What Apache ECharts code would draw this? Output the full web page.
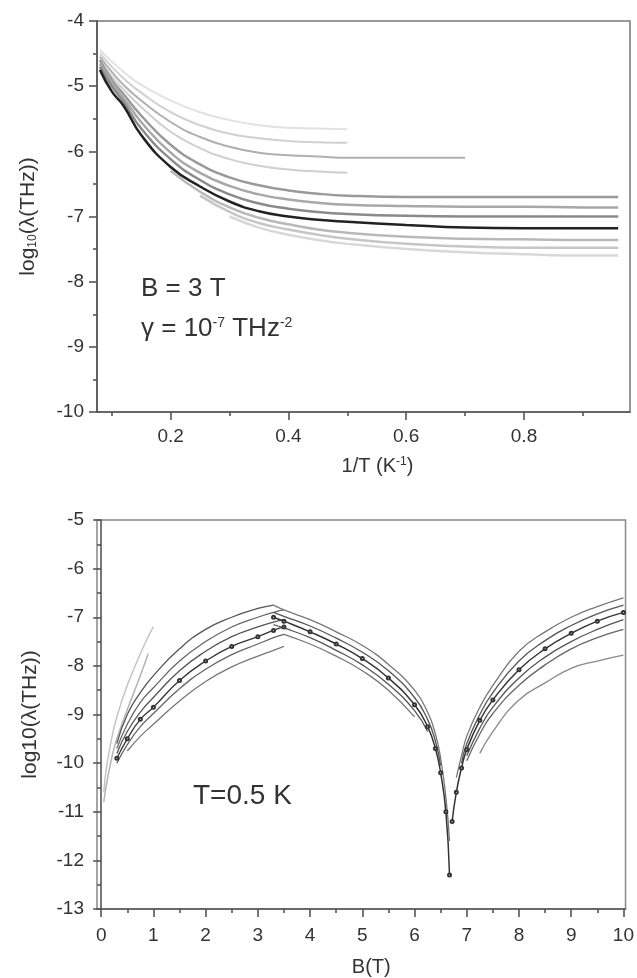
<!DOCTYPE html>
<html>
<head>
<meta charset="utf-8">
<script src="https://cdn.jsdelivr.net/npm/echarts@6/dist/echarts.min.js"></script>
<style>
html,body{margin:0;padding:0;background:#fff;}
#main{width:637px;height:978px;}
</style>
</head>
<body>
<div id="main"></div>
<script>
// ---------- Top panel: log10(lambda) vs 1/T at B = 3 T ----------
const topX = [0.08, 0.1, 0.12, 0.15, 0.2, 0.25, 0.3, 0.35, 0.4, 0.45, 0.5, 0.6, 0.7, 0.8, 0.9, 0.96];
const topT1 = [-4.45, -4.62, -4.78, -4.98, -5.22, -5.4, -5.52, -5.6, -5.64, -5.65, -5.66];
const topT2 = [-4.5, -4.7, -4.88, -5.1, -5.4, -5.6, -5.73, -5.8, -5.84, -5.86, -5.87];
const topT3 = [-4.55, -4.78, -4.98, -5.22, -5.55, -5.78, -5.93, -6.02, -6.06, -6.08, -6.1, -6.1, -6.1];
const topT4 = [-4.6, -4.85, -5.05, -5.32, -5.7, -5.95, -6.12, -6.22, -6.28, -6.31, -6.33];
const topL1 = [-4.6, -4.9, -5.12, -5.45, -5.9, -6.2, -6.4, -6.52, -6.6, -6.65, -6.68, -6.7, -6.7, -6.7, -6.7, -6.7];
const topL2 = [-4.65, -4.95, -5.18, -5.55, -6.02, -6.33, -6.53, -6.66, -6.74, -6.79, -6.82, -6.84, -6.85, -6.85, -6.86, -6.86];
const topL3 = [-4.7, -5.0, -5.24, -5.65, -6.12, -6.44, -6.66, -6.8, -6.88, -6.93, -6.96, -6.99, -7.0, -7.0, -7.0, -7.0];
const topDark = [-4.75, -5.08, -5.3, -5.75, -6.24, -6.54, -6.77, -6.92, -7.0, -7.05, -7.08, -7.13, -7.17, -7.18, -7.18, -7.18];
const topL5 = [null, null, null, null, -6.3, -6.62, -6.86, -7.02, -7.12, -7.2, -7.25, -7.31, -7.34, -7.35, -7.36, -7.36];
const topL6 = [null, null, null, null, null, -6.68, -6.93, -7.1, -7.2, -7.28, -7.34, -7.42, -7.46, -7.48, -7.48, -7.48];
const topL7 = [null, null, null, null, null, null, -7.0, -7.17, -7.28, -7.36, -7.42, -7.5, -7.55, -7.58, -7.6, -7.6];
const topXMajor = [0.2, 0.4, 0.6, 0.8];
const topXMinor = [0.1, 0.3, 0.5, 0.7, 0.9];

// ---------- Bottom panel: log10(lambda) vs B at T = 0.5 K ----------
const bSteep = [0.05, 0.1, 0.2, 0.3, 0.5, 0.75, 0.9, 1.0];
const steep1 = [-10.6, -10.1, -9.5, -9.05, -8.4, -7.75, -7.4, -7.2];
const steep2 = [-10.8, -10.45, -9.9, -9.5, -8.9, -8.2, -7.75, null];

const bLeft = [0.3, 0.5, 0.75, 1, 1.5, 2, 2.5, 3, 3.3, 3.5];
const left1 = [-9.6, -9.0, -8.55, -8.2, -7.65, -7.25, -7.0, -6.82, -6.75, null];
const left2 = [-9.7, -9.2, -8.75, -8.45, -7.9, -7.5, -7.2, -7.0, -6.9, -6.85];
const left3 = [-9.8, -9.35, -8.95, -8.65, -8.1, -7.7, -7.4, -7.2, -7.1, -7.05];
const left4 = [-9.9, -9.5, -9.1, -8.85, -8.3, -7.9, -7.6, -7.4, -7.27, -7.2];
const left5 = [-10.0, -9.62, -9.25, -8.98, -8.47, -8.07, -7.77, -7.55, -7.42, -7.35];
const left6 = [null, -9.75, -9.45, -9.2, -8.72, -8.32, -8.02, -7.8, -7.68, -7.6];

const bMid = [3.3, 3.5, 4, 4.5, 5, 5.5, 6, 6.25, 6.4, 6.5, 6.6, 6.67];
const mid1 = [-6.75, -6.85, -7.05, -7.3, -7.58, -7.97, -8.5, -8.95, -9.4, -9.9, -10.7, -11.6];
const mid2 = [-6.9, -6.98, -7.18, -7.43, -7.72, -8.1, -8.65, -9.1, -9.55, -10.05, null, null];
const mid3 = [-7.0, -7.08, -7.3, -7.55, -7.85, -8.25, -8.8, -9.25, -9.7, -10.2, -11.0, -12.3];
const mid4 = [-7.15, -7.22, -7.42, -7.68, -7.98, -8.38, -8.92, -9.35, null, null, null, null];
const mid5 = [null, -7.35, -7.55, -7.8, -8.1, -8.5, -9.05, null, null, null, null, null];

const bRight = [6.72, 6.8, 6.9, 7, 7.25, 7.5, 8, 8.5, 9, 9.5, 10];
const right1 = [null, -10.3, -9.85, -9.45, -8.85, -8.4, -7.7, -7.3, -7.0, -6.78, -6.6];
const right2 = [null, null, -10.0, -9.6, -9.0, -8.55, -7.9, -7.48, -7.17, -6.93, -6.75];
const right3 = [-11.2, -10.6, -10.1, -9.72, -9.12, -8.7, -8.08, -7.65, -7.33, -7.08, -6.9];
const right4 = [null, null, null, -9.85, -9.28, -8.85, -8.25, -7.82, -7.5, -7.25, -7.05];
const right5 = [null, null, null, -9.95, -9.4, -8.98, -8.4, -7.98, -7.65, -7.42, -7.25];
const right6 = [null, null, null, null, -9.8, -9.35, -8.7, -8.35, -8.05, -7.9, -7.78];

const botXMajor = [0, 1, 2, 3, 4, 5, 6, 7, 8, 9, 10];
const botXMinor = [0.5, 1.5, 2.5, 3.5, 4.5, 5.5, 6.5, 7.5, 8.5, 9.5];

// ---------- helpers ----------
const FONT = 'Liberation Sans, Arial, sans-serif';
const TXT = '#333';
function pairs(xs, ys) {
  const out = [];
  ys.forEach((y, i) => { if (y !== null && y !== undefined) out.push([xs[i], y]); });
  return out;
}
function curve(xi, yi, xs, ys, color, width, sym) {
  return {
    type: 'line', xAxisIndex: xi, yAxisIndex: yi, data: pairs(xs, ys),
    smooth: true, showSymbol: !!sym, symbol: sym || 'none', symbolSize: 3,
    lineStyle: { color: color, width: width }, itemStyle: { color: color },
    silent: true, animation: false
  };
}
const axisLineStyle = { color: '#555', width: 1.6 };
function yAxisDef(gi, min, max, name, gap) {
  return {
    type: 'value', gridIndex: gi, min: min, max: max, interval: 1,
    axisLine: { show: true, lineStyle: axisLineStyle },
    axisTick: { show: true, inside: false, length: 8, lineStyle: axisLineStyle },
    minorTick: { show: true, splitNumber: 2, length: 4, lineStyle: axisLineStyle },
    splitLine: { show: false },
    axisLabel: { fontFamily: FONT, fontSize: 19, color: TXT, margin: 13 },
    name: name, nameLocation: 'middle', nameGap: gap,
    nameTextStyle: {
      fontFamily: FONT, fontSize: 21, color: TXT,
      rich: {
        n: { fontFamily: FONT, fontSize: 21, color: TXT },
        sub: { fontFamily: FONT, fontSize: 12, color: TXT, verticalAlign: 'bottom', padding: [9, 0, 0, 0] }
      }
    }
  };
}
function xMajor(gi, min, max, ticks, name, pad, margin, gap) {
  return {
    type: 'value', gridIndex: gi, min: min, max: max, position: 'bottom',
    axisLine: { show: true, lineStyle: axisLineStyle },
    axisTick: { show: true, length: 8, lineStyle: axisLineStyle, customValues: ticks },
    splitLine: { show: false },
    axisLabel: { fontFamily: FONT, fontSize: 19, color: TXT, margin: margin, customValues: ticks, showMinLabel: true, showMaxLabel: true },
    name: name, nameLocation: 'middle', nameGap: gap,
    nameTextStyle: {
      fontFamily: FONT, fontSize: 20, color: TXT, padding: pad,
      rich: {
        n: { fontFamily: FONT, fontSize: 20, color: TXT },
        sup: { fontFamily: FONT, fontSize: 12, color: TXT, verticalAlign: 'top', padding: [0, 0, 8, 0] }
      }
    }
  };
}
function xMinor(gi, min, max, ticks) {
  return {
    type: 'value', gridIndex: gi, min: min, max: max, position: 'bottom',
    axisLine: { show: false },
    axisTick: { show: true, length: 4, lineStyle: axisLineStyle, customValues: ticks },
    axisLabel: { show: false },
    splitLine: { show: false }
  };
}

const chart = echarts.init(document.getElementById('main'), null, { renderer: 'canvas' });
chart.setOption({
  backgroundColor: '#fff',
  animation: false,
  grid: [
    { left: 97, top: 21, right: 7, height: 391, show: true, borderColor: '#777', borderWidth: 1.5, backgroundColor: 'transparent' },
    { left: 97, top: 520, right: 9, height: 392, show: true, borderColor: '#888', borderWidth: 1.5, backgroundColor: 'transparent' }
  ],
  xAxis: [
    xMajor(0, 0.075, 0.98, topXMajor, '{n|1/T (K}{sup|-1}{n|)}', [0, 0, 0, 28], 15, 44),
    xMinor(0, 0.075, 0.98, topXMinor),
    xMajor(1, -0.08, 10.04, botXMajor, 'B(T)', [0, 0, 0, 20], 17, 48),
    xMinor(1, -0.08, 10.04, botXMinor)
  ],
  yAxis: [
    yAxisDef(0, -10, -4, '{n|log}{sub|10}{n|(λ(THz))}', 58),
    yAxisDef(1, -13, -5, 'log10(λ(THz))', 56)
  ],
  graphic: [
    { type: 'text', left: 141, top: 276, style: { text: 'B = 3 T', font: '26px ' + FONT, fill: TXT } },
    { type: 'text', left: 141, top: 316, style: {
        text: '{n|γ = 10}{s|-7}{n| THz}{s|-2}', font: '26px ' + FONT, fill: TXT,
        rich: { n: { fontSize: 26, fontFamily: FONT, fill: TXT }, s: { fontSize: 14, fontFamily: FONT, fill: TXT, verticalAlign: 'top', padding: [0, 0, 11, 0] } }
      } },
    { type: 'text', left: 193, top: 782, style: { text: 'T=0.5 K', font: '28px ' + FONT, fill: TXT } }
  ],
  series: [
    curve(0, 0, topX, topT1, '#e2e2e2', 2),
    curve(0, 0, topX, topT2, '#d0d0d0', 2),
    curve(0, 0, topX, topT3, '#b0b0b0', 2),
    curve(0, 0, topX, topT4, '#cfcfcf', 2),
    curve(0, 0, topX, topL7, '#d8d8d8', 2.5),
    curve(0, 0, topX, topL6, '#c6c6c6', 2.5),
    curve(0, 0, topX, topL5, '#b8b8b8', 2.5),
    curve(0, 0, topX, topL1, '#9a9a9a', 2.5),
    curve(0, 0, topX, topL2, '#a8a8a8', 2.5),
    curve(0, 0, topX, topL3, '#8a8a8a', 2.5),
    curve(0, 0, topX, topDark, '#222', 2.5),

    curve(2, 1, bSteep, steep1, '#c4c4c4', 1.5),
    curve(2, 1, bSteep, steep2, '#b4b4b4', 1.5),
    curve(2, 1, bLeft, left1, '#555', 1.3),
    curve(2, 1, bLeft, left2, '#666', 1.3),
    curve(2, 1, bLeft, left3, '#555', 1.3),
    curve(2, 1, bLeft, left4, '#333', 1.3, 'emptyCircle'),
    curve(2, 1, bLeft, left5, '#666', 1.3),
    curve(2, 1, bLeft, left6, '#777', 1.3),
    curve(2, 1, bMid, mid1, '#777', 1.3),
    curve(2, 1, bMid, mid2, '#555', 1.3),
    curve(2, 1, bMid, mid3, '#333', 1.5, 'emptyCircle'),
    curve(2, 1, bMid, mid4, '#555', 1.3),
    curve(2, 1, bMid, mid5, '#777', 1.3),
    curve(2, 1, bRight, right1, '#777', 1.3),
    curve(2, 1, bRight, right2, '#555', 1.3),
    curve(2, 1, bRight, right3, '#333', 1.5, 'emptyCircle'),
    curve(2, 1, bRight, right4, '#555', 1.3),
    curve(2, 1, bRight, right5, '#666', 1.3),
    curve(2, 1, bRight, right6, '#888', 1.3)
  ]
});
</script>
</body>
</html>
